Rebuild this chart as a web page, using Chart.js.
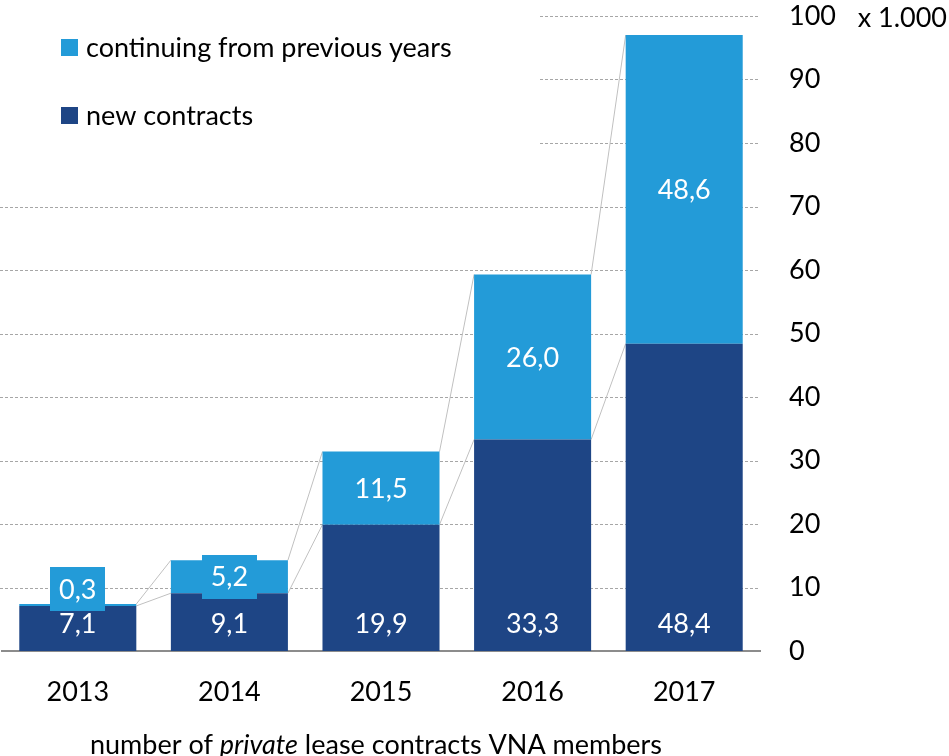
<!DOCTYPE html>
<html>
<head>
<meta charset="utf-8">
<script src="https://cdn.jsdelivr.net/npm/chart.js@4/dist/chart.umd.min.js"></script>
<style>
  body { margin: 0; background: #ffffff; }
  #wrap { width: 949px; height: 756px; position: relative; }
</style>
</head>
<body>
<div id="wrap"><canvas id="contracts"></canvas></div>
<script>
const years = ["2013", "2014", "2015", "2016", "2017"]
const new_contracts = [7.1, 9.1, 19.9, 33.3, 48.4]
const continuing = [0.3, 5.2, 11.5, 26.0, 48.6]
const y_ticks = [0, 10, 20, 30, 40, 50, 60, 70, 80, 90, 100]

const light_blue = "#239bd8"
const dark_blue = "#1e4585"
const grid_color = "#a6a6a6"
const link_color = "#c0c0c0"
const font_family = "Lato, 'Open Sans', sans-serif"
const font_size = 27

const legend_items = [
    {text: "continuing from previous years", color: light_blue},
    {text: "new contracts", color: dark_blue},
]

function fmt(v) {
    return v.toFixed(1).replace('.', ',')
}

// dashed grid lines, kept clear of the legend in the top left corner
const dashed_grid = {
    id: 'dashedGrid',
    beforeDatasetsDraw(chart) {
        const ctx = chart.ctx
        const y = chart.scales.y
        const area = chart.chartArea
        ctx.save()
        ctx.strokeStyle = grid_color
        ctx.lineWidth = 1
        ctx.setLineDash([3, 2])
        y_ticks.forEach((v) => {
            if (v === 0) return
            const py = Math.round(y.getPixelForValue(v)) + 0.5
            const x0 = py < 175 ? 540 : 0
            ctx.beginPath()
            ctx.moveTo(x0, py)
            ctx.lineTo(area.right, py)
            ctx.stroke()
        })
        ctx.restore()
    }
}

// thin lines joining the tops of matching segments of neighbouring bars
const series_lines = {
    id: 'seriesLines',
    beforeDatasetsDraw(chart) {
        const ctx = chart.ctx
        ctx.save()
        ctx.strokeStyle = link_color
        ctx.lineWidth = 1
        chart.data.datasets.forEach((ds, di) => {
            const bars = chart.getDatasetMeta(di).data
            for (let i = 0; i < bars.length - 1; i++) {
                const a = bars[i], b = bars[i + 1]
                ctx.beginPath()
                ctx.moveTo(a.x + a.width / 2, a.y)
                ctx.lineTo(b.x - b.width / 2, b.y)
                ctx.stroke()
            }
        })
        ctx.restore()
    }
}

// value labels with a box in the segment colour
const bar_labels = {
    id: 'barLabels',
    afterDatasetsDraw(chart) {
        const ctx = chart.ctx
        const base = chart.scales.y.getPixelForValue(0)
        const newBars = chart.getDatasetMeta(0).data
        const contBars = chart.getDatasetMeta(1).data
        ctx.save()
        ctx.font = `${font_size}px ${font_family}`
        ctx.textAlign = 'center'
        ctx.textBaseline = 'middle'

        function label(text, x, y, color) {
            const w = ctx.measureText(text).width + 18
            ctx.fillStyle = color
            ctx.fillRect(Math.round(x - w / 2), Math.round(y - 22), Math.round(w), 44)
            ctx.fillStyle = "#ffffff"
            ctx.fillText(text, x, y + 1)
        }

        const newY = base - 28
        newBars.forEach((bar, i) => label(fmt(new_contracts[i]), bar.x, newY, dark_blue))
        contBars.forEach((bar, i) => {
            const mid = (bar.y + bar.base) / 2
            label(fmt(continuing[i]), bar.x, Math.min(mid, newY - 34), light_blue)
        })
        ctx.restore()
    }
}

// legend, unit note and caption
const extras = {
    id: 'extras',
    afterDraw(chart) {
        const ctx = chart.ctx
        const area = chart.chartArea
        ctx.save()
        ctx.font = `${font_size}px ${font_family}`
        ctx.textBaseline = 'middle'
        ctx.textAlign = 'left'
        legend_items.forEach((item, i) => {
            const cy = 48 + i * 68
            ctx.fillStyle = item.color
            ctx.fillRect(61, cy - 9, 17, 17)
            ctx.fillStyle = "#000000"
            ctx.fillText(item.text, 86, cy)
        })

        ctx.textAlign = 'right'
        ctx.fillText("x 1.000", 947, chart.scales.y.getPixelForValue(100) + 2)
        ctx.textAlign = 'left'

        const parts = [
            {text: "number of ", font: `${font_size}px ${font_family}`},
            {text: "private", font: `italic ${font_size}px ${font_family}`},
            {text: " lease contracts VNA members", font: `${font_size}px ${font_family}`},
        ]
        let total = 0
        parts.forEach((p) => { ctx.font = p.font; p.w = ctx.measureText(p.text).width; total += p.w })
        let x = (area.left + area.right) / 2 - 5 - total / 2
        parts.forEach((p) => {
            ctx.font = p.font
            ctx.fillText(p.text, x, 745)
            x += p.w
        })
        ctx.restore()
    }
}

const ctx1 = document.getElementById('contracts')
new Chart(ctx1, {
    type: "bar",
    data: {
        labels: years,
        datasets: [{
            label: "new contracts",
            data: new_contracts,
            backgroundColor: dark_blue,
        },{
            label: "continuing from previous years",
            data: continuing,
            backgroundColor: light_blue,
        }]
    },
    options: {
        responsive: true,
        maintainAspectRatio: false,
        animation: false,
        events: [],
        categoryPercentage: 1,
        barPercentage: 0.772,
        layout: {
            padding: {top: 16, left: 2, right: 0, bottom: 0}
        },
        scales: {
            x: {
                stacked: true,
                grid: {display: false},
                border: {display: true, color: "#8c8c8c", width: 2},
                ticks: {
                    color: "#000000",
                    padding: 17,
                    font: {family: font_family, size: font_size}
                },
                afterFit(scale) {
                    scale.height = 105
                    scale.paddingLeft = 0
                    scale.paddingRight = 0
                }
            },
            y: {
                stacked: true,
                position: 'right',
                min: 0,
                max: 100,
                grid: {display: false, drawTicks: false},
                border: {display: false},
                ticks: {
                    stepSize: 10,
                    color: "#000000",
                    padding: 29,
                    font: {family: font_family, size: font_size}
                },
                afterFit(scale) {
                    scale.width = 189
                    scale.paddingTop = 0
                    scale.paddingBottom = 0
                }
            }
        },
        plugins: {
            legend: {display: false},
            tooltip: {enabled: false}
        }
    },
    plugins: [dashed_grid, series_lines, bar_labels, extras]
});
</script>
</body>
</html>
